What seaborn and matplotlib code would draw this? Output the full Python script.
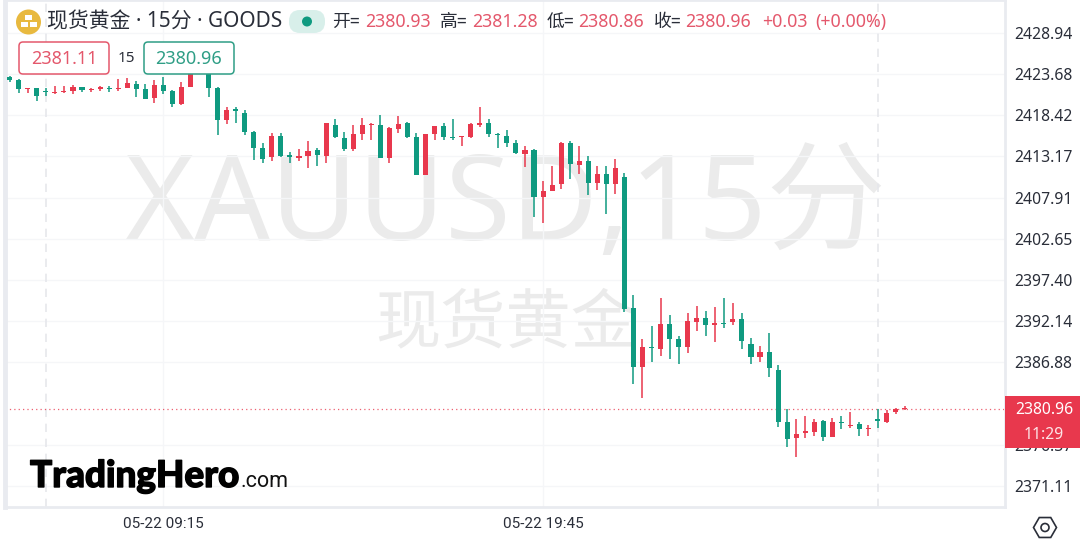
import numpy as np
import pandas as pd
import seaborn as sns
import matplotlib.pyplot as plt
import matplotlib.patheffects as pe
from matplotlib.patches import Circle, FancyBboxPatch, Rectangle, RegularPolygon

RED = '#e8384d'
GREEN = '#0f9a80'
TEXT_RED = '#e4586c'
TEXT_GREEN = '#2f9e86'
GRID = '#f5f6f8'
BORDER = '#e9ebf0'
WATERMARK = '#ebebeb'

# candle values, one per 15 minute bar
opens = [2423.36, 2422.89, 2421.79, 2421.87, 2421.53, 2421.32, 2421.36, 2421.53, 2422.00, 2421.66,
         2421.79, 2421.96, 2421.83, 2421.96, 2422.43, 2421.79, 2420.60, 2422.26, 2421.53, 2419.87,
         2422.04, 2426.00, 2424.40, 2421.87, 2417.83, 2419.19, 2418.77, 2416.34, 2414.21, 2413.06,
         2415.83, 2413.32, 2412.98, 2413.23, 2413.99, 2413.27, 2417.19, 2415.49, 2414.08, 2416.04,
         2417.19, 2417.19, 2413.02, 2416.64, 2417.40, 2415.70, 2410.76, 2415.98, 2417.02, 2415.66,
         2415.62, 2415.70, 2417.23, 2417.45, 2416.08, 2415.83, 2414.85, 2413.53, 2414.00, 2407.95,
         2408.80, 2409.61, 2414.93, 2412.04, 2412.55, 2409.74, 2410.89, 2409.66, 2410.59, 2393.78,
         2386.24, 2388.84, 2388.58, 2391.78, 2389.82, 2388.88, 2392.03, 2392.58, 2391.69, 2391.95,
         2392.07, 2392.41, 2389.26, 2387.56, 2388.20, 2385.90, 2379.30, 2377.22, 2377.90, 2378.03,
         2379.43, 2377.39, 2379.30, 2378.75, 2378.96, 2378.37, 2379.60, 2379.30, 2380.50, 2380.93]
closes = [2422.98, 2421.79, 2421.87, 2420.94, 2421.36, 2421.45, 2421.49, 2422.04, 2421.62, 2421.75,
          2422.00, 2421.83, 2421.92, 2422.51, 2421.79, 2420.55, 2422.26, 2421.57, 2419.91, 2422.09,
          2423.96, 2424.60, 2421.96, 2417.83, 2419.11, 2418.98, 2416.34, 2414.21, 2412.85, 2415.83,
          2413.23, 2413.06, 2413.23, 2413.87, 2413.40, 2417.40, 2415.70, 2414.13, 2415.98, 2417.15,
          2417.36, 2413.02, 2416.76, 2417.32, 2415.70, 2410.76, 2415.98, 2417.02, 2415.70, 2415.53,
          2415.74, 2417.27, 2417.40, 2416.04, 2415.96, 2414.85, 2413.57, 2414.04, 2407.95, 2408.76,
          2409.53, 2414.85, 2412.21, 2412.59, 2409.78, 2410.89, 2409.66, 2411.66, 2393.65, 2386.24,
          2388.80, 2388.71, 2391.78, 2389.90, 2388.88, 2392.12, 2392.58, 2391.69, 2391.95, 2391.82,
          2392.41, 2389.56, 2387.60, 2388.20, 2386.11, 2379.30, 2377.05, 2377.77, 2378.11, 2379.30,
          2377.39, 2379.30, 2379.09, 2378.88, 2378.37, 2378.49, 2379.35, 2380.45, 2380.88, 2380.96]
highs = [2423.45, 2423.02, 2421.87, 2421.96, 2421.87, 2422.17, 2422.17, 2422.34, 2422.09, 2421.92,
         2422.13, 2422.21, 2423.07, 2423.15, 2422.85, 2422.38, 2422.94, 2423.36, 2421.66, 2422.72,
         2424.60, 2426.50, 2424.90, 2422.00, 2419.45, 2419.53, 2419.11, 2416.47, 2414.85, 2416.13,
         2416.13, 2413.78, 2414.12, 2415.15, 2414.30, 2417.49, 2417.91, 2416.25, 2417.19, 2418.13,
         2417.49, 2418.47, 2416.89, 2418.34, 2417.53, 2416.12, 2415.98, 2417.10, 2417.49, 2417.91,
         2415.83, 2417.49, 2419.45, 2417.91, 2416.21, 2416.55, 2415.27, 2414.51, 2414.17, 2410.04,
         2411.95, 2415.06, 2415.19, 2414.51, 2413.27, 2411.95, 2412.00, 2412.81, 2411.02, 2395.48,
         2389.82, 2391.52, 2395.05, 2392.93, 2390.24, 2393.14, 2394.12, 2393.44, 2393.90, 2395.05,
         2394.42, 2393.22, 2389.95, 2388.97, 2390.63, 2386.54, 2380.92, 2379.64, 2380.03, 2379.60,
         2379.52, 2379.73, 2380.03, 2380.58, 2379.22, 2378.88, 2380.92, 2380.79, 2381.00, 2381.28]
lows = [2422.64, 2421.23, 2421.23, 2420.26, 2420.94, 2421.15, 2421.23, 2421.15, 2421.45, 2421.45,
        2421.49, 2421.45, 2421.57, 2421.87, 2420.81, 2420.47, 2419.96, 2421.15, 2419.53, 2419.70,
        2422.00, 2424.20, 2420.81, 2415.96, 2417.32, 2417.49, 2415.91, 2412.72, 2412.38, 2412.55,
        2413.15, 2412.29, 2412.64, 2411.66, 2411.95, 2412.38, 2415.49, 2413.87, 2413.91, 2415.27,
        2415.27, 2412.93, 2412.29, 2416.21, 2415.49, 2410.76, 2410.76, 2415.27, 2415.27, 2415.27,
        2414.51, 2415.57, 2416.98, 2415.70, 2414.30, 2414.34, 2413.49, 2411.87, 2405.48, 2404.72,
        2408.76, 2408.97, 2410.25, 2410.93, 2408.29, 2408.89, 2405.78, 2408.34, 2393.27, 2384.07,
        2382.29, 2386.88, 2387.69, 2387.31, 2386.67, 2388.03, 2390.84, 2390.29, 2389.48, 2391.31,
        2391.65, 2388.54, 2386.71, 2386.97, 2385.00, 2378.66, 2376.03, 2374.83, 2377.17, 2377.47,
        2376.83, 2377.35, 2378.37, 2378.49, 2377.52, 2377.52, 2378.45, 2379.09, 2380.24, 2380.86]

price_ticks = [2428.94, 2423.68, 2418.42, 2413.17, 2407.91, 2402.65, 2397.40, 2392.14,
               2386.88, 2376.37, 2371.11]
time_ticks = [17, 59]
time_labels = ['05-22 09:15', '05-22 19:45']
session_breaks = [4, 96]
last_price = 2380.96

sns.set_theme(style='white')
plt.rcParams['font.family'] = ['Noto Sans', 'Noto Sans CJK SC', 'DejaVu Sans']

df = pd.DataFrame({'bar': range(len(opens)), 'open': opens, 'close': closes})
df['bottom'] = df[['open', 'close']].min(axis=1)
df['body'] = (df['close'] - df['open']).abs().clip(lower=0.12)
up = df[df['close'] >= df['open']]
down = df[df['close'] < df['open']]

W, H = 1080, 547
fig = plt.figure(figsize=(W / 100, H / 100), dpi=100, facecolor='white')

# watermark sits under the candles
under = fig.add_axes([0, 0, 1, 1], zorder=0)
under.set_xlim(0, W)
under.set_ylim(H, 0)
under.axis('off')
under.text(505, 240, 'XAUUSD,15分', fontsize=86, color=WATERMARK, ha='center', va='baseline')
under.text(506, 325, '现货黄金', fontsize=47, color=WATERMARK, ha='center', va='center')

ax = fig.add_axes([5 / W, (H - 507) / H, 1000 / W, 507 / H], zorder=1)
ax.patch.set_alpha(0)

ax.vlines(df['bar'], lows, highs, color=[RED if c >= o else GREEN for o, c in zip(opens, closes)],
          lw=1.1, zorder=3)
sns.barplot(data=up, x='bar', y='body', bottom=up['bottom'], native_scale=True, color=RED,
            saturation=1, width=0.56, linewidth=0, errorbar=None, ax=ax, zorder=3)
sns.barplot(data=down, x='bar', y='body', bottom=down['bottom'], native_scale=True, color=GREEN,
            saturation=1, width=0.56, linewidth=0, errorbar=None, ax=ax, zorder=3)

ax.set_xlim(-0.52, 110.1)
ax.set_ylim(2368.41, 2433.15)
ax.set_xlabel('')
ax.set_ylabel('')
ax.set_yticks(price_ticks)
ax.set_yticklabels([f'{p:.2f}' for p in price_ticks])
ax.yaxis.tick_right()
ax.set_xticks(time_ticks)
ax.set_xticklabels(time_labels, family='Roboto')
ax.tick_params(axis='y', length=0, pad=7, labelsize=11.3, colors='#2a2e39', right=False, labelright=True)
ax.tick_params(axis='x', length=0, pad=7, labelsize=11, colors='#2a2e39')
ax.grid(True, color=GRID, lw=1)
ax.set_axisbelow(True)
for x in session_breaks:
    ax.axvline(x, color='#e6e7eb', lw=1.2, ls=(0, (5, 4)), zorder=1)
ax.axhline(last_price, color=RED, lw=0.9, ls=(0, (1, 2.5)), zorder=2, alpha=0.8)

for side, width in [('top', 2), ('right', 2), ('bottom', 2), ('left', 3.5)]:
    ax.spines[side].set_color(BORDER)
    ax.spines[side].set_linewidth(width)

# header, boxes, logo and price tag in pixel coordinates
over = fig.add_axes([0, 0, 1, 1], zorder=2)
over.set_xlim(0, W)
over.set_ylim(H, 0)
over.axis('off')


def label(x, y, s, color='#2a2e39', size=12.8, ha='left', **kws):
    over.text(x, y, s, color=color, fontsize=size, ha=ha, va='center', **kws)


over.add_patch(Circle((28.5, 22), 12.5, color='#e8b93f', lw=0))
for bx, by in [(25, 15), (20.5, 22), (29.5, 22)]:
    over.add_patch(Rectangle((bx, by), 7, 5, color='white', lw=0))

label(47, 22, '现货黄金 · 15分 · GOODS', size=15)
over.add_patch(FancyBboxPatch((289, 10), 36, 23, boxstyle='round,pad=0,rounding_size=11',
                              fc='#d8efea', ec='none'))
over.add_patch(Circle((307, 21.5), 5, color='#0f9a80', lw=0))

for x, s in [(332, '开='), (440, '高='), (547, '低='), (654, '收=')]:
    label(x, 22, s)
for x, s in [(365, '2380.93'), (472, '2381.28'), (578, '2380.86'), (685, '2380.96'),
             (762, '+0.03'), (815, '(+0.00%)')]:
    label(x, 22, s, color=TEXT_RED)

over.add_patch(FancyBboxPatch((19, 42), 90, 32, boxstyle='round,pad=0,rounding_size=4',
                              fc='white', ec=TEXT_RED, lw=1.1))
label(64, 58.5, '2381.11', color=TEXT_RED, size=13, ha='center')
label(126, 59, '15', size=11, ha='center')
over.add_patch(FancyBboxPatch((144, 42), 90, 32, boxstyle='round,pad=0,rounding_size=4',
                              fc='white', ec=TEXT_GREEN, lw=1.1))
label(189, 58.5, '2380.96', color=TEXT_GREEN, size=13, ha='center')

over.add_patch(Rectangle((1005, 396), 75, 52, color=RED, lw=0))
label(1044, 409.5, '2380.96', color='white', size=11.3, ha='center')
label(1044, 435, '11:29', color='#fde3e6', size=11.3, ha='center')

over.add_patch(RegularPolygon((1045, 527.5), 6, radius=11.5, orientation=np.pi / 6,
                              fc='none', ec='#2a2e39', lw=1.2))
over.add_patch(Circle((1045, 527.5), 4, fc='none', ec='#2a2e39', lw=1.2))

over.text(30, 487, 'TradingHero', fontsize=26.5, fontweight='black', color='black', family='Lato',
          ha='left', va='baseline', path_effects=[pe.withStroke(linewidth=1.0, foreground='black')])
over.text(240, 487, '.com', fontsize=15.5, color='#111111', family='Roboto', ha='left', va='baseline')

plt.savefig('out.png', dpi=100)
plt.close()
